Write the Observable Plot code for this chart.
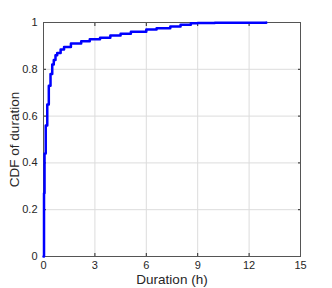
<!DOCTYPE html>
<html>
<head>
<meta charset="utf-8">
<script src="https://cdn.jsdelivr.net/npm/d3@7"></script>
<script src="https://cdn.jsdelivr.net/npm/@observablehq/plot@0.6"></script>
<style>
  html, body { margin: 0; padding: 0; background: #fff; }
  svg { font-family: "Liberation Sans", Arial, sans-serif; }
</style>
</head>
<body>
<div id="chart"></div>
<script>
// Duration (h) where the empirical CDF steps, and the CDF value after each step
const durations = [0, 0.03, 0.06, 0.13, 0.22, 0.31, 0.41, 0.51, 0.6, 0.7, 0.8, 1.0, 1.2, 1.6, 2.2, 2.7, 3.3, 3.9, 4.5, 5.1, 6.0, 6.6, 7.4, 8.0, 8.6, 9.0, 10, 13];
const cdf       = [0, 0.27, 0.44, 0.56, 0.65, 0.73, 0.78, 0.82, 0.84, 0.86, 0.87, 0.885, 0.895, 0.91, 0.92, 0.928, 0.935, 0.944, 0.952, 0.96, 0.97, 0.975, 0.983, 0.99, 0.997, 0.998, 0.999, 1];
const xTicks = [0, 3, 6, 9, 12, 15];
const yTicks = [0, 0.2, 0.4, 0.6, 0.8, 1];
const xLabel = "Duration (h)";
const yLabel = "CDF of duration";

const data = durations.map((d, i) => ({d, p: cdf[i]}));
const axisColor = "#262626";

const chart = Plot.plot({
  width: 332,
  height: 288,
  marginLeft: 43,
  marginRight: 32,
  marginTop: 22,
  marginBottom: 32,
  style: {fontFamily: "Liberation Sans, Arial, sans-serif", color: axisColor, background: "#fff"},
  x: {domain: [0, 15], ticks: xTicks},
  y: {domain: [0, 1], ticks: yTicks},
  marks: [
    Plot.gridX(xTicks.slice(1, -1), {stroke: "#dcdcdc", strokeOpacity: 1}),
    Plot.gridY(yTicks.slice(1, -1), {stroke: "#dcdcdc", strokeOpacity: 1}),
    Plot.axisX(xTicks, {anchor: "bottom", tickSize: -3, tickPadding: 8, fontSize: 11, stroke: axisColor,
      tickFormat: d => String(d), label: xLabel, labelAnchor: "center", labelArrow: "none", labelOffset: 27}),
    Plot.axisX(xTicks, {anchor: "top", tickSize: -3, tickFormat: () => "", label: null, stroke: axisColor}),
    Plot.axisY(yTicks, {anchor: "left", tickSize: -3, tickPadding: 9, fontSize: 11, stroke: axisColor,
      tickFormat: d => String(d), label: yLabel, labelAnchor: "center", labelArrow: "none", labelOffset: 34}),
    Plot.axisY(yTicks, {anchor: "right", tickSize: -3, tickFormat: () => "", label: null, stroke: axisColor}),
    Plot.frame({stroke: "#555"}),
    Plot.line(data, {x: "d", y: "p", curve: "step-after", stroke: "#0000ff", strokeWidth: 2.5})
  ]
});
// axis label font sizes
chart.querySelectorAll("g[aria-label='x-axis label'] text, g[aria-label='y-axis label'] text").forEach(t => t.setAttribute("font-size", 13.5));
document.getElementById("chart").appendChild(chart);
</script>
</body>
</html>
